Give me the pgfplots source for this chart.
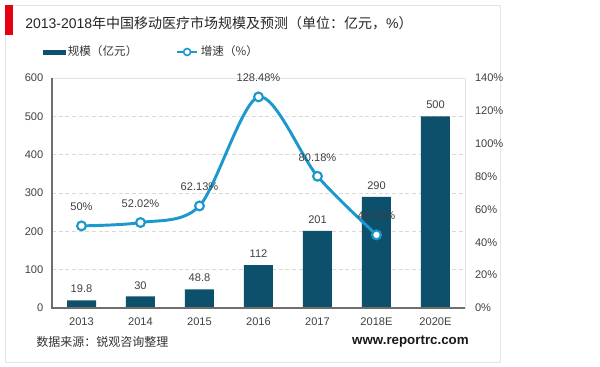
\documentclass[border=0pt]{standalone}
\usepackage{pgfplots}
\pgfplotsset{compat=1.18}
\usepackage{fontspec}
\setmainfont{Liberation Sans}
\newfontfamily\cjk{Noto Sans CJK SC}
\definecolor{barcol}{RGB}{12,80,108}
\definecolor{linecol}{RGB}{28,152,205}
\definecolor{titlered}{RGB}{230,0,18}
\definecolor{txt}{RGB}{64,64,64}
\definecolor{axisgray}{RGB}{110,110,110}
\begin{document}
\begin{tikzpicture}
\useasboundingbox (0pt,0pt) rectangle (450pt,275.25pt);
\fill[white] (0pt,0pt) rectangle (450pt,275.25pt);
\draw[gray!22] (4.1pt,3.4pt) rectangle (375pt,271.1pt);
\fill[titlered] (3.75pt,249pt) rectangle (9.75pt,271.5pt);
\node[anchor=west, inner sep=0, font=\fontsize{10.5}{12}\selectfont, text=black!85] at (18.75pt,258pt) {2013-2018{\cjk 年中国移动医疗市场规模及预测（单位：亿元，}\%{\cjk ）}};
\node[anchor=west, inner sep=0, font=\fontsize{9}{11}\selectfont\cjk, text=black!80] at (27pt,18.75pt) {数据来源：锐观咨询整理};
\node[anchor=east, inner sep=0, font=\fontsize{10}{12}\selectfont\bfseries, text=black!90] at (351.75pt,18.75pt) {www.reportrc.com};

\begin{axis}[
  at={(39pt,44.25pt)}, anchor=south west,
  scale only axis, width=309.75pt, height=172.5pt,
  xmin=-0.5, xmax=6.5, ymin=0, ymax=600,
  xtick={0,...,6}, xticklabels={2013,2014,2015,2016,2017,2018E,2020E},
  ytick={0,100,...,600},
  major tick length=0pt,
  ymajorgrids, grid style={densely dashed, gray!30},
  axis line style={draw=gray!22},
  tick label style={font=\fontsize{8.3}{10}\selectfont, text=txt},
  yticklabel style={xshift=-3pt},
  xticklabel style={yshift=-4pt},
  /pgf/number format/assume math mode=true,
  ybar, bar width=21.75pt,
  nodes near coords,
  nodes near coords style={font=\fontsize{8.3}{10}\selectfont, text=txt, yshift=2pt, /pgf/number format/assume math mode=true},
  clip=false,
]
\addplot[fill=barcol, draw=none] coordinates {(0,19.8)(1,30)(2,48.8)(3,112)(4,201)(5,290)(6,500)};
\draw[axisgray, line width=0.9pt] (rel axis cs:0,1) -- (rel axis cs:0,0) -- (rel axis cs:1,0);
\end{axis}

\begin{axis}[
  at={(39pt,44.25pt)}, anchor=south west,
  scale only axis, width=309.75pt, height=172.5pt,
  xmin=-0.5, xmax=6.5, ymin=0, ymax=140,
  axis x line=none, axis y line*=right,
  axis line style={draw=none},
  ytick={0,20,...,140},
  yticklabel={\pgfmathprintnumber{\tick}\%},
  major tick length=0pt,
  tick label style={font=\fontsize{8.3}{10}\selectfont, text=txt},
  yticklabel style={xshift=4pt},
  /pgf/number format/assume math mode=true,
  clip=false,
  legend style={at={(-0.0218,1.113)}, anchor=west, draw=none, fill=none, inner sep=0pt,
    font=\fontsize{8.7}{10}\selectfont\cjk, text=black!80,
    /tikz/every even column/.append style={column sep=27pt}},
  legend columns=2,
  legend cell align=left,
]
\addlegendimage{legend image code/.code={\fill[barcol] (0pt,-1.6pt) rectangle (16pt,1.6pt);}}
\addlegendentry{规模（亿元）}
\addplot[linecol, line width=2.2pt, smooth, tension=0.5,
  mark=*, mark size=3.3pt, mark options={fill=white, draw=linecol, line width=1.6pt, solid},
  point meta=explicit symbolic,
  nodes near coords,
  nodes near coords style={font=\fontsize{8.3}{10}\selectfont, text=txt, anchor=south, yshift=7pt},
  legend image code/.code={\draw[linecol, line width=1.6pt] (0pt,0pt) -- (15pt,0pt); \draw[linecol, fill=white, line width=1.2pt] (7.5pt,0pt) circle (2.6pt);}
] coordinates {
  (0,50) [50\%]
  (1,52.02) [52.02\%]
  (2,62.13) [62.13\%]
  (3,128.48) [128.48\%]
  (4,80.18) [80.18\%]
  (5,44.50) [44.50\%]
};
\addlegendentry{增速（\%）}
\end{axis}
\end{tikzpicture}
\end{document}
